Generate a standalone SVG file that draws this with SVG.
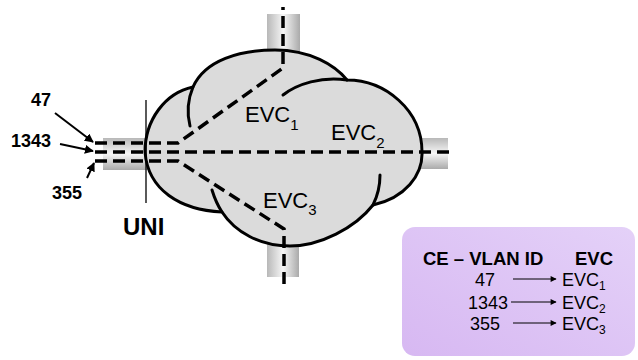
<svg xmlns="http://www.w3.org/2000/svg" width="638" height="360" viewBox="0 0 638 360">
<style>
  .lbl { font-family: "Liberation Sans", Arial, sans-serif; fill: #000; }
  .b { font-weight: bold; }
  .dash { fill: none; stroke: #000; stroke-width: 3.5; stroke-dasharray: 12 6; }
  .edge { fill: none; stroke: #000; stroke-width: 3; stroke-linecap: round; }
  .thin { fill: none; stroke: #000; stroke-width: 2; }
  .tab { fill: none; stroke: #000; stroke-width: 1; }
</style>
<defs>
  <linearGradient id="pipeV" x1="0" y1="0" x2="1" y2="0">
    <stop offset="0" stop-color="#b8b8b8"/>
    <stop offset="0.5" stop-color="#f6f6f6"/>
    <stop offset="1" stop-color="#aaaaaa"/>
  </linearGradient>
  <linearGradient id="pipeH" x1="0" y1="0" x2="0" y2="1">
    <stop offset="0" stop-color="#b8b8b8"/>
    <stop offset="0.5" stop-color="#f6f6f6"/>
    <stop offset="1" stop-color="#aaaaaa"/>
  </linearGradient>
  <linearGradient id="box" x1="0" y1="1" x2="1" y2="0">
    <stop offset="0" stop-color="#d7b8f2"/>
    <stop offset="1" stop-color="#e4d1f8"/>
  </linearGradient>
  <marker id="ah" viewBox="0 0 10 10" refX="9" refY="5" markerWidth="4.5" markerHeight="4.5" orient="auto" markerUnits="strokeWidth">
    <path d="M0,0 L10,5 L0,10 z" fill="#000"/>
  </marker>
  <marker id="ahs" viewBox="0 0 10 10" refX="9" refY="5" markerWidth="9" markerHeight="6" orient="auto" markerUnits="strokeWidth">
    <path d="M0,0 L10,5 L0,10 z" fill="#000"/>
  </marker>
</defs>

<g id="pipes">
  <rect x="267" y="14" width="33" height="50" fill="url(#pipeV)"/>
  <rect x="267" y="225" width="32" height="52" fill="url(#pipeV)"/>
  <rect x="103" y="138" width="57" height="32" fill="url(#pipeH)"/>
  <rect x="410" y="138" width="38" height="31" fill="url(#pipeH)"/>
</g>

<g id="cloud">
  <path d="M145,152 C145,120 165,93 193,87 C205,60 240,50 275,50 C310,50 335,65 347,80 C385,80 422,110 422,152 C423,175 405,198 373,205 C355,228 320,246 290,246 C260,246 235,232 222,212 C180,210 148,190 145,152 Z" fill="#dbdbdb" stroke="#000" stroke-width="3" stroke-linejoin="round"/>
  <path class="edge" d="M193,87 Q185,106 190,126"/>
  <path class="edge" d="M283,95 C297,84 322,76 347,80"/>
  <path class="edge" d="M212,190 Q216,203 222,212"/>
  <path class="edge" d="M380,175 C380,188 377,197 373,205"/>
</g>

<g id="connectors">
  <path id="evc1-path" class="dash" d="M95,143 L178,143 L283,68 L283,7"/>
  <path id="evc2-path" class="dash" d="M95,152 L455,152"/>
  <path id="evc3-path" class="dash" d="M95,161 L178,161 L284,229 L284,288"/>
  <line id="uni-line" x1="146" y1="100" x2="146" y2="203" stroke="#000" stroke-width="1.3"/>
  <line class="thin" x1="55" y1="113" x2="93" y2="142" marker-end="url(#ah)"/>
  <line class="thin" x1="60" y1="144" x2="93" y2="151" marker-end="url(#ah)"/>
  <line class="thin" x1="87" y1="178" x2="94" y2="163" marker-end="url(#ah)"/>
</g>

<g id="labels-left">
  <text class="lbl b" x="31" y="106" font-size="18">47</text>
  <text class="lbl b" x="11" y="147" font-size="18">1343</text>
  <text class="lbl b" x="52" y="199" font-size="18">355</text>
  <text class="lbl b" x="123" y="235" font-size="24">UNI</text>
</g>

<g id="evc-labels">
  <text class="lbl" x="245" y="122" font-size="22">EVC<tspan font-size="15" dy="8">1</tspan></text>
  <text class="lbl" x="331" y="140" font-size="22">EVC<tspan font-size="15" dy="8">2</tspan></text>
  <text class="lbl" x="263" y="208" font-size="22">EVC<tspan font-size="15" dy="7">3</tspan></text>
</g>

<g id="mapping-table">
  <rect x="402" y="227" width="233" height="129" rx="13" fill="url(#box)"/>
  <text class="lbl b" x="423" y="265" font-size="18.5">CE – VLAN ID</text>
  <text class="lbl b" x="575" y="265" font-size="18.5">EVC</text>
  <text class="lbl" x="475" y="286" font-size="18">47</text>
  <text class="lbl" x="468" y="309" font-size="18">1343</text>
  <text class="lbl" x="470" y="330" font-size="18">355</text>
  <line class="tab" x1="513" y1="279" x2="556" y2="279" marker-end="url(#ahs)"/>
  <line class="tab" x1="511" y1="302" x2="556" y2="302" marker-end="url(#ahs)"/>
  <line class="tab" x1="513" y1="323" x2="556" y2="323" marker-end="url(#ahs)"/>
  <text class="lbl" x="562" y="286" font-size="18">EVC<tspan font-size="12" dy="4">1</tspan></text>
  <text class="lbl" x="562" y="309" font-size="18">EVC<tspan font-size="12" dy="4">2</tspan></text>
  <text class="lbl" x="562" y="330" font-size="18">EVC<tspan font-size="12" dy="4">3</tspan></text>
</g>
</svg>
